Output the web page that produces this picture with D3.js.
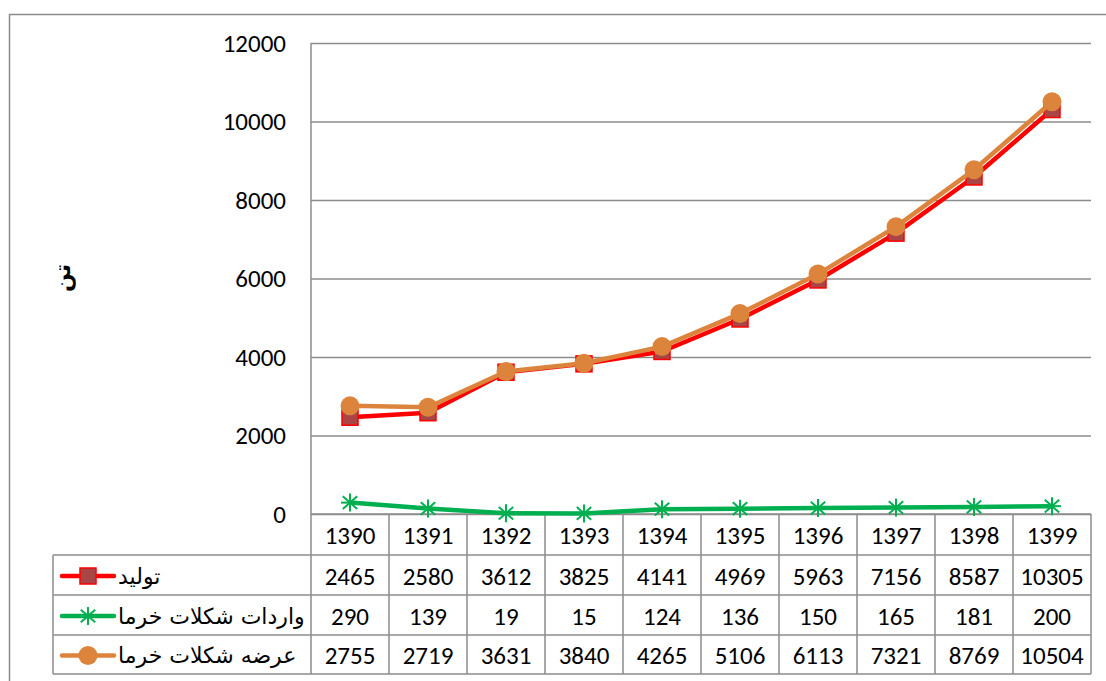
<!DOCTYPE html>
<html><head><meta charset="utf-8">
<script src="https://cdn.jsdelivr.net/npm/d3@7"></script>
<style>body{margin:0;background:#fff}</style>
</head><body>
<svg id="c" width="1106" height="681"></svg>
<script>
const years = ["1390","1391","1392","1393","1394","1395","1396","1397","1398","1399"];
const production = [2465,2580,3612,3825,4141,4969,5963,7156,8587,10305];
const imports = [290,139,19,15,124,136,150,165,181,200];
const supply = [2755,2719,3631,3840,4265,5106,6113,7321,8769,10504];
const seriesNames = ["تولید","واردات شکلات خرما","عرضه شکلات خرما"];
const yTicks = [0,2000,4000,6000,8000,10000,12000];
const yTitle = "تن";

const svg = d3.select("#c");
const W = 1106, H = 681;
const pl = 311, pr = 1091, pt = 43, pb = 514;
const grid = "#8c8c8c";
const numFont = "Carlito, Lato, 'Open Sans', sans-serif";
const arFont = "'DejaVu Sans', sans-serif";

// outer border
svg.append("rect").attr("x",9.5).attr("y",14.5).attr("width",W+10).attr("height",H+10)
  .attr("fill","none").attr("stroke","#8c8c8c").attr("stroke-width",1.5);

const x = d3.scaleBand().domain(years).range([pl,pr]).padding(0);
const y = d3.scaleLinear().domain([0,12000]).range([pb,pt]);

// gridlines
const yAxis = d3.axisLeft(y).tickValues(yTicks).tickSize(-(pr-pl)).tickPadding(25).tickFormat(d3.format("d"));
const ga = svg.append("g").attr("transform",`translate(${pl},0)`).call(yAxis);
ga.select(".domain").remove();
ga.selectAll(".tick line").attr("stroke",grid).attr("stroke-width",1.5);
ga.selectAll(".tick text").attr("font-family",numFont).attr("font-size",25).attr("fill","#000");

// left plot border
svg.append("line").attr("x1",pl).attr("x2",pl).attr("y1",pt).attr("y2",pb)
  .attr("stroke",grid).attr("stroke-width",1.5);

// y title
svg.append("text").attr("transform","translate(62,278) rotate(-90)")
  .attr("text-anchor","middle").attr("dominant-baseline","central")
  .attr("font-family",arFont).attr("font-size",22).attr("font-weight","bold").text(yTitle);

// data table
const rowY = [514,555,595,635,674];
const tbl = svg.append("g");
function ln(x1,y1,x2,y2){tbl.append("line").attr("x1",x1).attr("y1",y1).attr("x2",x2).attr("y2",y2).attr("stroke",grid).attr("stroke-width",1.5);}
ln(pl,rowY[0],pr,rowY[0]);
for(let i=1;i<rowY.length;i++) ln(53,rowY[i],pr,rowY[i]);
years.forEach(yr=>ln(x(yr),rowY[0],x(yr),rowY[4]));
ln(pr,rowY[0],pr,rowY[4]);
ln(53,rowY[1],53,rowY[4]);

const tableRows = [years, production, imports, supply];
tableRows.forEach((row,ri)=>{
  tbl.selectAll(null).data(row).join("text")
    .attr("x",(d,i)=>x(years[i])+x.bandwidth()/2)
    .attr("y",(rowY[ri]+rowY[ri+1])/2+1)
    .attr("text-anchor","middle").attr("dominant-baseline","central")
    .attr("font-family",numFont).attr("font-size",25).attr("fill","#000")
    .text(d=>d);
});

const colors = ["#ff0000","#00b050","#dd843c"];
const markerFill = ["#a94545","#00b050","#dd843c"];

function marker(g, type, cx, cy){
  if(type===0){
    g.append("rect").attr("x",cx-8).attr("y",cy-8).attr("width",16).attr("height",16)
      .attr("fill",markerFill[0]).attr("stroke","#ff0000").attr("stroke-width",1.5);
  } else if(type===1){
    const s=9, c=colors[1];
    [[0,-s,0,s],[-s*0.8,-s*0.7,s*0.8,s*0.7],[-s*0.8,s*0.7,s*0.8,-s*0.7],[-s,0,s,0]].forEach(p=>{
      g.append("line").attr("x1",cx+p[0]).attr("y1",cy+p[1]).attr("x2",cx+p[2]).attr("y2",cy+p[3])
        .attr("stroke",c).attr("stroke-width",2);
    });
  } else {
    g.append("circle").attr("cx",cx).attr("cy",cy).attr("r",9.5).attr("fill",markerFill[2]);
  }
}

const data = [production, imports, supply];
const line = d3.line().x((d,i)=>x(years[i])+x.bandwidth()/2).y(d=>y(d));
data.forEach((vals,si)=>{
  const g = svg.append("g");
  g.append("path").datum(vals).attr("d",line).attr("fill","none")
    .attr("stroke",colors[si]).attr("stroke-width",4.5).attr("stroke-linejoin","round");
  vals.forEach((v,i)=>marker(g,si,x(years[i])+x.bandwidth()/2,y(v)));
});

// legend keys in table
seriesNames.forEach((nm,si)=>{
  const cy=(rowY[si+1]+rowY[si+2])/2+1;
  const g=svg.append("g");
  g.append("line").attr("x1",62).attr("x2",114).attr("y1",cy).attr("y2",cy)
    .attr("stroke",colors[si]).attr("stroke-width",4.5).attr("stroke-linecap","round");
  marker(g,si,88,cy);
  g.append("text").attr("x",118).attr("y",cy).attr("dominant-baseline","central")
    .attr("direction","rtl").attr("text-anchor","end")
    .attr("font-family",arFont).attr("font-size",22).attr("fill","#000").text(nm);
});
</script>
</body></html>
